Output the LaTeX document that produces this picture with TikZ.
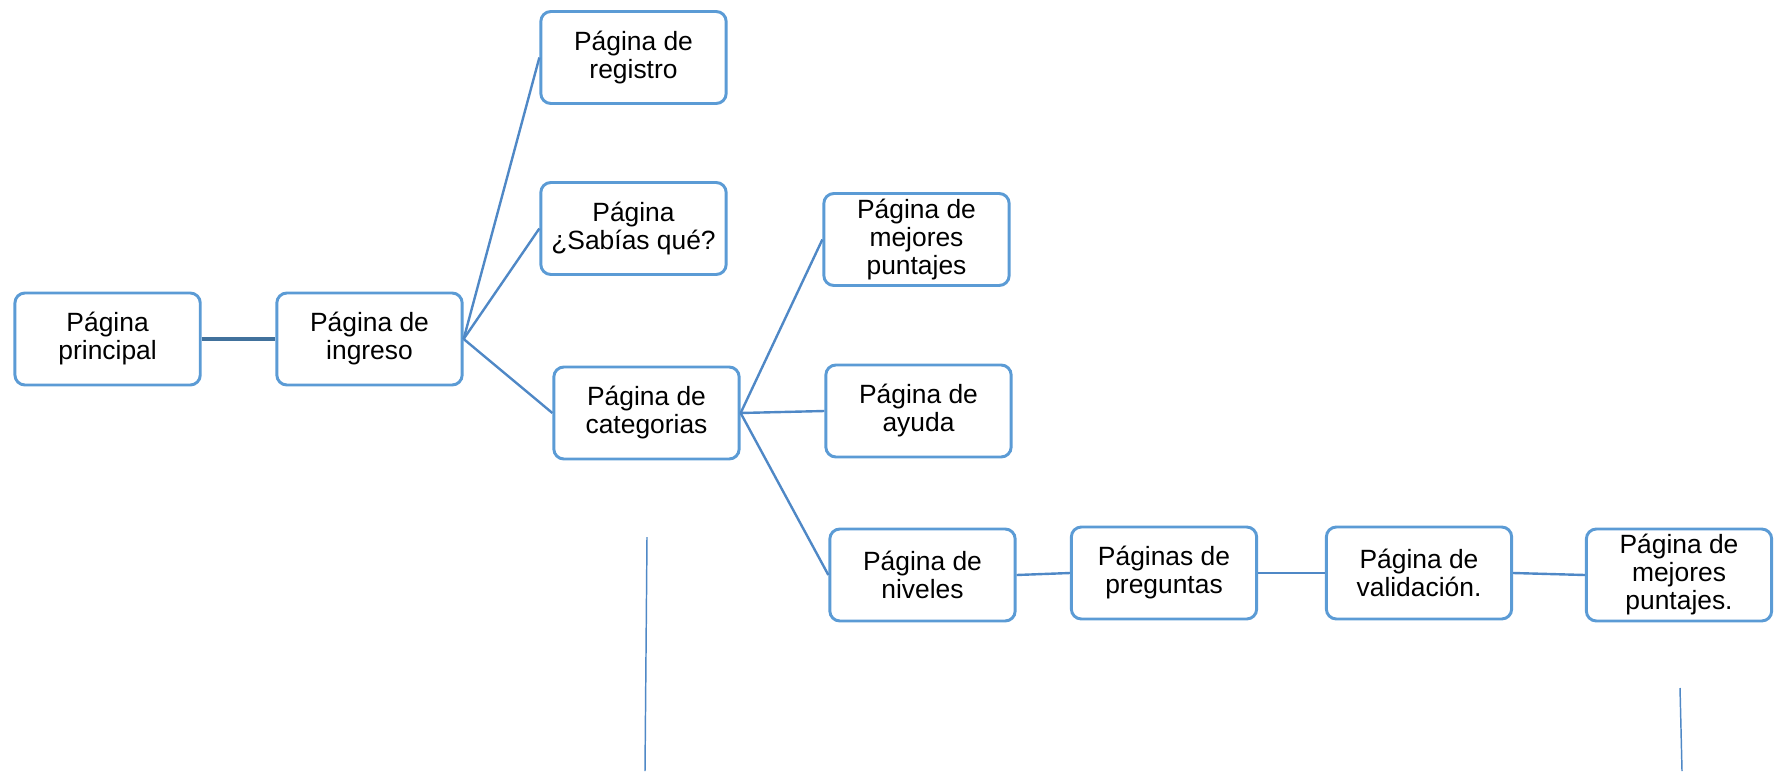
\documentclass[tikz,border=0pt]{standalone}
\usepackage{fontspec}
\setmainfont{Liberation Sans}
\definecolor{boxblue}{HTML}{5B9BD5}
\definecolor{linkblue}{HTML}{4F88C6}
\definecolor{darklink}{HTML}{41719C}
\begin{document}
\begin{tikzpicture}[x=0.75pt,y=-0.75pt,
  pbox/.style={draw=boxblue,line width=2.2pt,rounded corners=7.5pt,fill=white,
    minimum width=139pt,minimum height=69pt,align=center,inner sep=0pt,
    font=\fontsize{19.8}{21}\selectfont},
  link/.style={draw=linkblue,line width=1.8pt},
  stray/.style={draw=linkblue,line width=1.1pt}]
\useasboundingbox (0,0) rectangle (1776,771);
\node[pbox] (princ) at (107.6,339) {Página\\principal};
\node[pbox] (ingr) at (369.5,339) {Página de\\ingreso};
\node[pbox] (reg) at (633.5,57.5) {Página de\\registro};
\node[pbox] (sab) at (633.5,228.5) {Página\\¿Sabías qué?};
\node[pbox] (cat) at (646.5,413) {Página de\\categorias};
\node[pbox] (mej) at (916.5,239.5) {Página de\\mejores\\puntajes};
\node[pbox] (ayu) at (918.5,411) {Página de\\ayuda};
\node[pbox] (niv) at (922.5,575) {Página de\\niveles};
\node[pbox] (pre) at (1164,573) {Páginas de\\preguntas};
\node[pbox] (val) at (1419,573) {Página de\\validación.};
\node[pbox] (mej2) at (1679,575) {Página de\\mejores\\puntajes.};
\draw[draw=darklink,line width=2.4pt] (princ.east) -- (ingr.west);
\draw[link] (ingr.east) -- (reg.west);
\draw[link] (ingr.east) -- (sab.west);
\draw[link] (ingr.east) -- (cat.west);
\draw[link] (cat.east) -- (mej.west);
\draw[link] (cat.east) -- (ayu.west);
\draw[link] (cat.east) -- (niv.west);
\draw[link] (niv.east) -- (pre.west);
\draw[link] (pre.east) -- (val.west);
\draw[link] (val.east) -- (mej2.west);
\coordinate (s1a) at (647,537);
\coordinate (s1b) at (645,771);
\coordinate (s2a) at (1680,688);
\coordinate (s2b) at (1682,771);
\draw[stray] (s1a) -- (s1b);
\draw[stray] (s2a) -- (s2b);
\end{tikzpicture}
\end{document}
